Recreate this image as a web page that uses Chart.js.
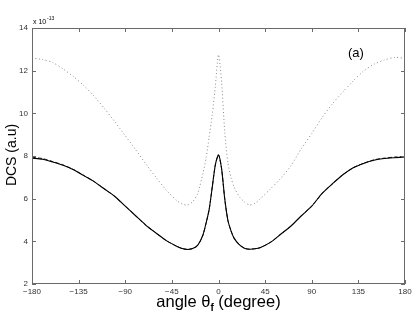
<!DOCTYPE html>
<html>
<head>
<meta charset="utf-8">
<script src="https://cdn.jsdelivr.net/npm/chart.js@4.4.0/dist/chart.umd.min.js"></script>
<style>
  html, body { margin: 0; padding: 0; background: #fff; }
  #wrap { width: 415px; height: 319px; }
</style>
</head>
<body>
<div id="wrap"><canvas id="myChart" width="415" height="319"></canvas></div>
<script>
// scattering angle (degree)
const angles = [-180, -170, -160, -150, -140, -130, -120, -110, -100, -90, -80, -70, -60, -50, -40, -35, -30, -25, -20, -15, -12, -9, -6, -3, 0,
  3, 6, 9, 12, 15, 20, 25, 30, 35, 40, 50, 60, 70, 80, 90, 100, 110, 120, 130, 140, 150, 160, 170, 180];

// DCS in units of 1e-13
const dottedDcs = [12.6, 12.52, 12.38, 12.08, 11.72, 11.3, 10.8, 10.22, 9.6, 8.95, 8.3, 7.62, 6.98, 6.38, 5.9, 5.75, 5.7, 5.85, 6.25, 7.2, 7.9, 8.9, 9.95, 11.3, 12.75,
  11.45, 9.15, 7.7, 7.0, 6.55, 6.1, 5.85, 5.7, 5.78, 5.98, 6.45, 6.95, 7.55, 8.35, 9.05, 9.8, 10.45, 11.0, 11.52, 11.98, 12.3, 12.5, 12.62, 12.58];

const solidDcs = [7.9, 7.85, 7.72, 7.57, 7.36, 7.08, 6.8, 6.45, 6.1, 5.65, 5.2, 4.75, 4.38, 4.02, 3.76, 3.66, 3.62, 3.66, 3.82, 4.3, 4.85, 5.5, 6.55, 7.6, 8.05,
  7.4, 6.0, 5.0, 4.5, 4.15, 3.85, 3.68, 3.63, 3.65, 3.7, 3.95, 4.33, 4.72, 5.2, 5.65, 6.25, 6.7, 7.12, 7.45, 7.65, 7.8, 7.88, 7.92, 7.95];

const dashedDcs = [7.94, 7.88, 7.74, 7.58, 7.37, 7.09, 6.8, 6.45, 6.1, 5.65, 5.2, 4.75, 4.38, 4.02, 3.76, 3.66, 3.62, 3.66, 3.82, 4.3, 4.85, 5.5, 6.55, 7.6, 8.05,
  7.4, 6.0, 5.0, 4.5, 4.15, 3.85, 3.68, 3.63, 3.65, 3.7, 3.95, 4.33, 4.72, 5.2, 5.65, 6.25, 6.7, 7.12, 7.45, 7.66, 7.82, 7.9, 7.95, 7.98];

const xTicks = [-180, -135, -90, -45, 0, 45, 90, 135, 180];
const yTicks = [2, 4, 6, 8, 10, 12, 14];

const FONT = "'Liberation Sans', Arial, Helvetica, sans-serif";

function toPoints(ys) {
  return angles.map((a, i) => ({ x: a, y: ys[i] }));
}

// draws the matlab style box, inward ticks and the extra text
const decorations = {
  id: "decorations",
  afterDraw(chart) {
    const ctx = chart.ctx;
    const area = chart.chartArea;
    const xs = chart.scales.x;
    const ys = chart.scales.y;
    ctx.save();
    ctx.strokeStyle = "#6a6a6a";
    ctx.lineWidth = 1;
    ctx.strokeRect(Math.round(area.left) + 0.5, Math.round(area.top) + 0.5,
      Math.round(area.right - area.left) - 1, Math.round(area.bottom - area.top) - 1);
    ctx.beginPath();
    xTicks.forEach((v) => {
      const px = Math.round(xs.getPixelForValue(v)) + 0.5;
      ctx.moveTo(px, area.bottom);
      ctx.lineTo(px, area.bottom - 4);
      ctx.moveTo(px, area.top);
      ctx.lineTo(px, area.top + 4);
    });
    yTicks.forEach((v) => {
      const py = Math.round(ys.getPixelForValue(v)) + 0.5;
      ctx.moveTo(area.left, py);
      ctx.lineTo(area.left + 4, py);
      ctx.moveTo(area.right, py);
      ctx.lineTo(area.right - 4, py);
    });
    ctx.stroke();

    ctx.fillStyle = "#000";
    // exponent above the y axis
    ctx.textBaseline = "alphabetic";
    ctx.textAlign = "left";
    ctx.font = "7px " + FONT;
    ctx.fillText("x 10", area.left + 1, area.top - 4);
    ctx.font = "5px " + FONT;
    ctx.fillText("-13", area.left + 15, area.top - 8);

    // panel label
    ctx.font = "13px " + FONT;
    ctx.fillText("(a)", 348, 57);

    // x axis title with subscript
    const y0 = 307;
    const p1 = "angle \u03b8";
    const p3 = " (degree)";
    ctx.font = "16.5px " + FONT;
    const w1 = ctx.measureText(p1).width;
    const w3 = ctx.measureText(p3).width;
    ctx.font = "bold 10px " + FONT;
    const w2 = ctx.measureText("f").width;
    let x0 = (area.left + area.right) / 2 - (w1 + w2 + w3) / 2;
    ctx.font = "16.5px " + FONT;
    ctx.fillText(p1, x0, y0);
    ctx.font = "bold 10px " + FONT;
    ctx.fillText("f", x0 + w1, y0 + 4);
    ctx.font = "16.5px " + FONT;
    ctx.fillText(p3, x0 + w1 + w2, y0);

    // y axis title
    ctx.translate(16, 155);
    ctx.rotate(-Math.PI / 2);
    ctx.textAlign = "center";
    ctx.font = "14px " + FONT;
    ctx.fillText("DCS (a.u)", 0, 0);
    ctx.restore();
  }
};

const ctx = document.getElementById("myChart").getContext("2d");
const chart = new Chart(ctx, {
  type: "line",
  data: {
    datasets: [
      {
        label: "dotted",
        data: toPoints(dottedDcs),
        borderColor: "#888",
        borderWidth: 1,
        borderDash: [1, 2.5],
        pointRadius: 0,
        tension: 0.25,
        fill: false
      },
      {
        label: "solid",
        data: toPoints(solidDcs),
        borderColor: "#000",
        borderWidth: 1.1,
        pointRadius: 0,
        tension: 0.25,
        fill: false
      },
      {
        label: "dashed",
        data: toPoints(dashedDcs),
        borderColor: "#000",
        borderWidth: 0.9,
        borderDash: [4, 2],
        pointRadius: 0,
        tension: 0.25,
        fill: false
      }
    ]
  },
  options: {
    responsive: false,
    animation: false,
    events: [],
    layout: { padding: { top: 28, right: 10, left: 0, bottom: 0 } },
    plugins: {
      legend: { display: false },
      tooltip: { enabled: false }
    },
    scales: {
      x: {
        type: "linear",
        min: -180,
        max: 180,
        afterFit: (scale) => { scale.height = 35; },
        afterBuildTicks: (scale) => { scale.ticks = xTicks.map((v) => ({ value: v })); },
        grid: { display: false, drawTicks: false },
        border: { display: false },
        ticks: {
          color: "#333",
          padding: 3,
          maxRotation: 0,
          autoSkip: false,
          font: { family: FONT, size: 8 },
          callback: (v) => String(v).replace("-", "\u2212")
        }
      },
      y: {
        type: "linear",
        min: 2,
        max: 14,
        afterFit: (scale) => { scale.width = 32; },
        afterBuildTicks: (scale) => { scale.ticks = yTicks.map((v) => ({ value: v })); },
        grid: { display: false, drawTicks: false },
        border: { display: false },
        ticks: {
          color: "#333",
          padding: 4,
          font: { family: FONT, size: 8 }
        }
      }
    }
  },
  plugins: [decorations]
});
</script>
</body>
</html>
